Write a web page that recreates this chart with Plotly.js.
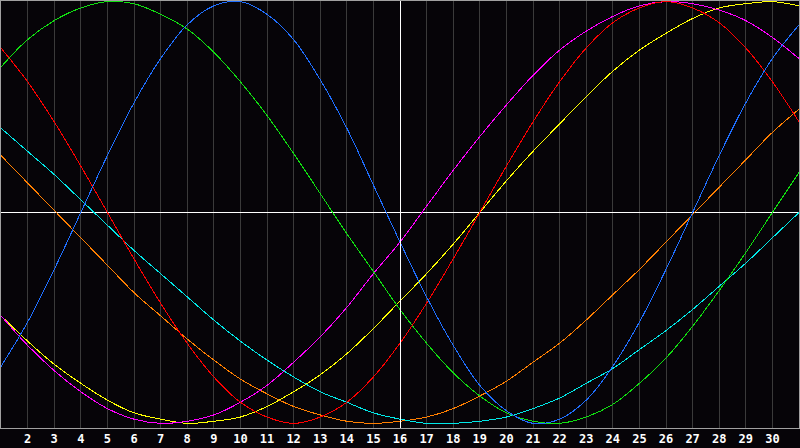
<!DOCTYPE html>
<html>
<head>
<meta charset="utf-8">
<script src="https://cdn.plot.ly/plotly-3.0.1.min.js"></script>
<style>
html,body{margin:0;padding:0;background:#060408;}
#chart{width:800px;height:448px;}
#chart svg path, #chart svg line, #chart svg rect {shape-rendering: crispEdges !important;}
</style>
</head>
<body>
<div id="chart"></div>
<script>
const days = [1,2,3,4,5,6,7,8,9,10,11,12,13,14,15,16,17,18,19,20,21,22,23,24,25,26,27,28,29,30,31];
const tickDays = [2,3,4,5,6,7,8,9,10,11,12,13,14,15,16,17,18,19,20,21,22,23,24,25,26,27,28,29,30];
const tickLabels = ["2","3","4","5","6","7","8","9","10","11","12","13","14","15","16","17","18","19","20","21","22","23","24","25","26","27","28","29","30"];
const todayDay = 16;

const physical = [-0.73,-0.52,-0.27,0.00,0.27,0.52,0.73,0.89,0.98,1.00,0.94,0.82,0.63,0.40,0.13,-0.14,-0.40,-0.63,-0.82,-0.94,-1.00,-0.98,-0.89,-0.73,-0.52,-0.27,0.00,0.27,0.52,0.73,0.89];
const emotional = [0.78,0.62,0.43,0.22,0.00,-0.22,-0.43,-0.62,-0.78,-0.90,-0.97,-1.00,-0.97,-0.90,-0.78,-0.62,-0.43,-0.22,0.00,0.22,0.43,0.62,0.78,0.90,0.97,1.00,0.97,0.90,0.78,0.62,0.43];
const intellectual = [0.69,0.82,0.91,0.97,1.00,0.99,0.94,0.87,0.76,0.62,0.46,0.28,0.09,-0.10,-0.28,-0.46,-0.62,-0.76,-0.87,-0.95,-0.99,-1.00,-0.97,-0.91,-0.81,-0.69,-0.54,-0.37,-0.19,0.00,0.19];
const intuitive = [-0.49,-0.63,-0.75,-0.85,-0.93,-0.98,-1.00,-0.99,-0.96,-0.90,-0.82,-0.71,-0.59,-0.45,-0.29,-0.14,0.03,0.20,0.36,0.51,0.65,0.77,0.86,0.93,0.98,1.00,0.99,0.96,0.91,0.83,0.73];
const aesthetic = [-0.49,-0.61,-0.72,-0.81,-0.89,-0.95,-0.98,-1.00,-0.99,-0.97,-0.92,-0.85,-0.77,-0.67,-0.55,-0.42,-0.29,-0.15,0.00,0.15,0.29,0.42,0.55,0.67,0.77,0.85,0.92,0.97,0.99,1.00,0.98];
const awareness = [0.27,0.14,0.01,-0.12,-0.25,-0.38,-0.49,-0.60,-0.70,-0.79,-0.86,-0.92,-0.96,-0.99,-1.00,-0.99,-0.97,-0.93,-0.87,-0.80,-0.71,-0.62,-0.51,-0.39,-0.27,-0.14,-0.01,0.12,0.25,0.38,0.49];
const spiritual = [0.40,0.29,0.18,0.06,-0.06,-0.18,-0.29,-0.40,-0.51,-0.61,-0.70,-0.78,-0.85,-0.90,-0.95,-0.98,-1.00,-1.00,-0.99,-0.97,-0.93,-0.88,-0.81,-0.74,-0.65,-0.56,-0.46,-0.35,-0.24,-0.12,0.00];

const series = [
  {name:"Awareness", values: awareness, color:"#ff7f00"},
  {name:"Spiritual", values: spiritual, color:"#00e8e8"},
  {name:"Aesthetic", values: aesthetic, color:"#ffff00"},
  {name:"Intuitive", values: intuitive, color:"#ff00ff"},
  {name:"Intellectual", values: intellectual, color:"#10e010"},
  {name:"Emotional", values: emotional, color:"#ff0000"},
  {name:"Physical", values: physical, color:"#1f6fff"}
];

const traces = series.map(s => ({
  x: days, y: s.values, type: "scatter", mode: "lines", name: s.name,
  line: {color: s.color, width: 1, shape: "spline", smoothing: 1},
  hoverinfo: "skip"
}));

const layout = {
  width: 800, height: 448,
  margin: {l: 1, r: 1, t: 1, b: 20, pad: 0},
  paper_bgcolor: "#060408",
  plot_bgcolor: "#060408",
  showlegend: false,
  xaxis: {
    range: [1, 31],
    tickvals: tickDays, ticktext: tickLabels,
    showgrid: true, gridcolor: "#3a3a3a", gridwidth: 1,
    zeroline: false,
    showline: true, mirror: true, linecolor: "#a0a0a0", linewidth: 1,
    ticks: "", ticklen: 0,
    tickfont: {family: "DejaVu Sans Mono", size: 12, color: "#ffffff", weight: "bold"},
    fixedrange: true
  },
  yaxis: {
    range: [-1.022, 1.003],
    showgrid: false,
    showticklabels: false,
    zeroline: true, zerolinecolor: "#ffffff", zerolinewidth: 1,
    showline: true, mirror: true, linecolor: "#a0a0a0", linewidth: 1,
    ticks: "",
    fixedrange: true
  },
  shapes: [{
    type: "line", xref: "x", yref: "paper",
    x0: todayDay, x1: todayDay, y0: 0, y1: 1,
    line: {color: "#ffffff", width: 1},
    layer: "above"
  }]
};

Plotly.newPlot("chart", traces, layout, {staticPlot: true, displayModeBar: false});
</script>
</body>
</html>
